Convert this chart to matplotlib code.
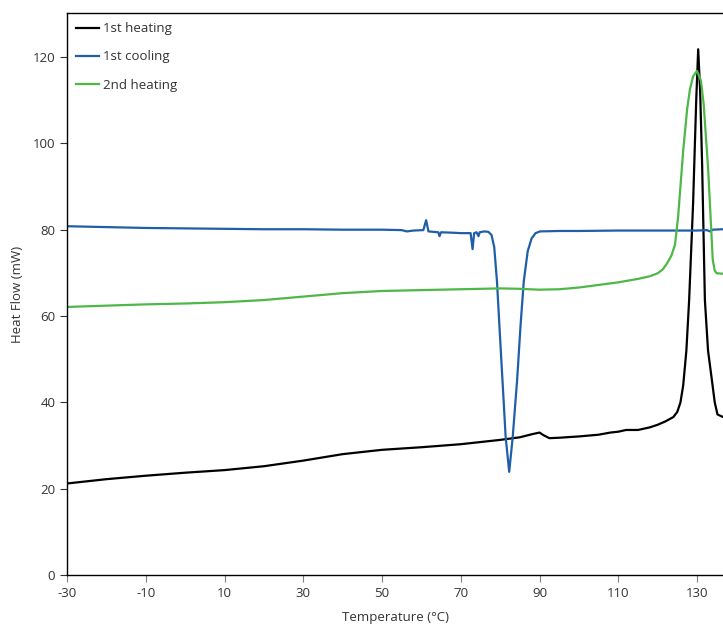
import matplotlib.pyplot as plt
import numpy as np

plt.rcParams['font.family'] = ['Open Sans', 'DejaVu Sans']
plt.rcParams['axes.unicode_minus'] = False

# 1st heating (black)
heat1_T = [-30, -20, -10, 0, 10, 20, 30, 40, 50, 60, 70, 75, 80, 85, 88, 90, 91,
           92.5, 95, 100, 105, 108, 110, 112, 115, 118, 120, 122, 124, 125,
           125.8, 126.5, 127.3, 128, 129, 129.8, 130.3, 130.8, 131.3, 132, 132.8,
           133.8, 134.5, 135.2, 136.6]
heat1_H = [21.2, 22.2, 23.0, 23.7, 24.3, 25.2, 26.5, 28.0, 29.0, 29.6, 30.3, 30.8,
           31.3, 31.9, 32.6, 33.0, 32.4, 31.7, 31.8, 32.1, 32.5, 33.0, 33.2, 33.6,
           33.6, 34.2, 34.8, 35.6, 36.6, 37.8, 40.0, 44.0, 52.0, 63.7, 86.0, 110.0,
           121.8, 112.0, 95.0, 63.7, 52.0, 45.0, 40.0, 37.2, 36.6]

# 1st cooling (blue)
cool_T = [-30, -20, -10, 0, 10, 20, 30, 40, 50, 55, 56.3, 58, 60.5, 61.2, 61.8,
          63, 64.3, 64.6, 65, 68, 70, 72.5, 73, 73.4, 74, 74.5, 74.8, 76, 77,
          77.8, 78.5, 79.2, 79.8, 80.6, 81.4, 82.3, 83.2, 84.3, 85.2, 86, 87, 88,
          89, 90.1, 95, 100, 110, 120, 130, 132.5, 133.3, 134, 136.6]
cool_H = [80.8, 80.6, 80.4, 80.3, 80.2, 80.1, 80.1, 80.0, 80.0, 79.9, 79.6, 79.8,
          79.9, 82.2, 79.6, 79.5, 79.4, 78.5, 79.4, 79.3, 79.2, 79.2, 75.5, 79.2,
          79.4, 78.5, 79.4, 79.6, 79.5, 78.8, 76.0, 68.0, 58.0, 45.0, 32.0, 23.9,
          32.0, 45.0, 58.0, 68.0, 75.0, 78.0, 79.2, 79.6, 79.7, 79.7, 79.8, 79.8,
          79.8, 79.9, 79.6, 80.0, 80.1]

# 2nd heating (green)
heat2_T = [-30, -20, -10, 0, 10, 20, 30, 40, 50, 60, 70, 80, 85, 90, 95, 100, 105,
           110, 115, 118, 120, 121.3, 122.4, 123.5, 124.4, 125.2, 126.5, 127.5,
           128.2, 129, 130, 131, 131.7, 132.3, 132.8, 133.5, 134, 134.5, 135, 136.6]
heat2_H = [62.1, 62.4, 62.7, 62.9, 63.2, 63.7, 64.5, 65.3, 65.8, 66.0, 66.2, 66.4,
           66.3, 66.1, 66.2, 66.6, 67.2, 67.8, 68.6, 69.2, 69.9, 70.8, 72.2, 74.0,
           76.5, 83.0, 98.4, 108.0, 112.5, 115.5, 116.8, 114.5, 109.0, 101.0, 94.5,
           82.0, 73.0, 70.5, 69.9, 69.8]

x_ticks = np.arange(-30, 131, 20)
y_ticks = np.arange(0, 121, 20)

fig = plt.figure(figsize=(7.23, 6.28), dpi=100)
ax = fig.add_axes([67 / 723, 1 - 575 / 628, 1 - 67 / 723, (575 - 13) / 628])

ax.plot(heat1_T, heat1_H, color='black', lw=1.6, label='1st heating')
ax.plot(cool_T, cool_H, color='#1f5ea8', lw=1.6, label='1st cooling')
ax.plot(heat2_T, heat2_H, color='#4db848', lw=1.6, label='2nd heating')

ax.set_xlim(-30, 136.6)
ax.set_ylim(0, 130.2)
ax.set_xticks(x_ticks)
ax.set_yticks(y_ticks)
ax.spines['right'].set_visible(False)
for s in ['left', 'bottom', 'top']:
    ax.spines[s].set_linewidth(1.0)
ax.tick_params(axis='x', direction='out', length=5, color='#808080',
               labelsize=9.5, labelcolor='#333333')
ax.tick_params(axis='y', direction='out', length=5, color='#333333',
               labelsize=9.5, labelcolor='#333333')

ax.set_xlabel('Temperature (°C)', fontsize=9.5, color='#333333', labelpad=8)
ax.set_ylabel('Heat Flow (mW)', fontsize=9.5, color='#333333', labelpad=6)

ax.legend(loc='upper left', frameon=False, fontsize=9.5, handlelength=1.7,
          handletextpad=0.3, labelspacing=1.15, borderaxespad=0.3,
          bbox_to_anchor=(0.0, 1.0), labelcolor='#333333')

fig.savefig('out.png', dpi=100)
